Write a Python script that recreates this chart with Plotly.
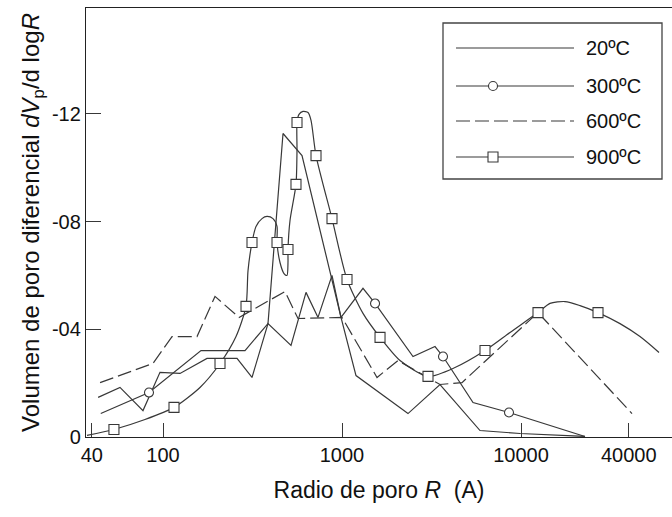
import plotly.graph_objects as go

# ---------------- data ----------------
# 20 ºC
R20 = [43.4, 57.5, 77.3, 96.2, 124.5, 176.1, 259.1, 314.2, 386.0, 518.9, 629.4,
       734.5, 879.3, 987.2, 1197.3, 2337, 3527, 5902, 9872, 22782]
V20 = [-0.0147, -0.0184, -0.0098, -0.0240, -0.0236, -0.0292, -0.0292, -0.0221,
       -0.0421, -0.0340, -0.0537, -0.0444, -0.0600, -0.0444, -0.0228, -0.0087,
       -0.0195, -0.0024, -0.0013, -0.0002]

# 300 ºC (line) and its marked points
R300 = [44.9, 83.5, 163.0, 287.1, 386.0, 468.2, 597.9, 987.2, 1310.2, 1529.6,
        2493, 3308, 3667, 5394, 8570, 22782]
V300 = [-0.0087, -0.0165, -0.0321, -0.0321, -0.0421, -0.1127, -0.1045, -0.0444,
        -0.0552, -0.0496, -0.0299, -0.0336, -0.0299, -0.0128, -0.0091, -0.0002]
R300_pts = [83.5, 1529.6, 3667, 8570]
V300_pts = [-0.0165, -0.0496, -0.0299, -0.0091]

# 600 ºC
R600 = [44.5, 87.9, 112.3, 154.9, 195.2, 265.9, 480.4, 567.8, 1000, 1569, 2055,
        3527, 4682, 12445, 41706]
V600 = [-0.0202, -0.0273, -0.0373, -0.0373, -0.0522, -0.0444, -0.0540, -0.0440,
        -0.0444, -0.0221, -0.0284, -0.0195, -0.0202, -0.0462, -0.0087]

# 900 ºC (smoothed curve) and its marked points
R900 = [37.6, 53.2, 79.3, 115.2, 160.9, 208.2, 255.8, 290.9, 298.5, 314.2, 330.8,
        357.3, 381.1, 411.6, 433.4, 433.4, 450.4, 474.2, 492.8, 499.2, 499.2,
        512.3, 553.3, 560.5, 560.5, 575.2, 605.6, 645.9, 671.3, 715.8, 879.3,
        1066.4, 1310.2, 1631, 2109, 3023, 4279, 6294, 8681, 12445, 14521, 17616,
        21362, 26929, 35739, 46224, 59024]
V900 = [-0.0006, -0.0028, -0.0065, -0.0110, -0.0184, -0.0273, -0.0373, -0.0485,
        -0.0618, -0.0722, -0.0782, -0.0811, -0.0819, -0.0811, -0.0782, -0.0722,
        -0.0648, -0.0607, -0.0600, -0.0648, -0.0696, -0.0804, -0.0938, -0.1064,
        -0.1168, -0.1198, -0.1209, -0.1205, -0.1176, -0.1045, -0.0811, -0.0585,
        -0.0459, -0.0370, -0.0284, -0.0225, -0.0258, -0.0321, -0.0388, -0.0462,
        -0.0496, -0.0503, -0.0488, -0.0462, -0.0421, -0.0373, -0.0314]
R900_pts = [53.2, 115.2, 208.2, 290.9, 314.2, 433.4, 499.2, 553.3, 560.5, 715.8,
            879.3, 1066.4, 1631, 3023, 6294, 12445, 26929]
V900_pts = [-0.0028, -0.0110, -0.0273, -0.0485, -0.0722, -0.0722, -0.0696,
            -0.0938, -0.1168, -0.1045, -0.0811, -0.0585, -0.0370, -0.0225,
            -0.0321, -0.0462, -0.0462]

x_ticks = [40, 100, 1000, 10000, 40000]
x_ticktext = ["40", "100", "1000", "10000", "40000"]
y_ticks = [0, -0.04, -0.08, -0.12]
y_ticktext = ["0", "-04", "-08", "-12"]
legend_names = ["20ºC", "300ºC", "600ºC", "900ºC"]

# ---------------- styling ----------------
FONT = "Liberation Sans, Arial, sans-serif"
LC = "#383838"
LW = 1.2
W, H = 672, 517
ML, MR, MT, MB = 86, 0, 8, 80

fig = go.Figure()
fig.add_trace(go.Scatter(x=R20, y=V20, mode="lines",
                         line=dict(color=LC, width=LW), showlegend=False))
fig.add_trace(go.Scatter(x=R300, y=V300, mode="lines",
                         line=dict(color=LC, width=LW), showlegend=False))
fig.add_trace(go.Scatter(x=R600, y=V600, mode="lines",
                         line=dict(color=LC, width=LW, dash="14px,5px"),
                         showlegend=False))
fig.add_trace(go.Scatter(x=R900, y=V900, mode="lines",
                         line=dict(color=LC, width=LW, shape="spline", smoothing=0.7),
                         showlegend=False))
fig.add_trace(go.Scatter(x=R300_pts, y=V300_pts, mode="markers",
                         marker=dict(symbol="circle", size=9, color="white",
                                     line=dict(color=LC, width=1.1)),
                         showlegend=False))
fig.add_trace(go.Scatter(x=R900_pts, y=V900_pts, mode="markers",
                         marker=dict(symbol="square", size=10, color="white",
                                     line=dict(color=LC, width=1.1)),
                         showlegend=False))

# ---------------- custom legend (box with long line samples) ----------------
PW = W - ML - MR
PH = H - MT - MB


def px(x):
    return (x - ML) / PW


def py(y):
    return (H - MB - y) / PH


shapes = [dict(type="rect", xref="paper", yref="paper",
               x0=px(443), x1=px(662), y0=py(179), y1=py(23),
               line=dict(color="#444444", width=1.3), fillcolor="white")]
rows = [48, 86, 121, 157]
dashes = ["solid", "solid", "14px,5px", "solid"]
for r, d in zip(rows, dashes):
    shapes.append(dict(type="line", xref="paper", yref="paper",
                       x0=px(456), x1=px(574), y0=py(r), y1=py(r),
                       line=dict(color=LC, width=LW, dash=d)))
shapes.append(dict(type="circle", xref="paper", yref="paper",
                   x0=px(488.5), x1=px(497.5), y0=py(90.5), y1=py(81.5),
                   line=dict(color=LC, width=1.1), fillcolor="white"))
shapes.append(dict(type="rect", xref="paper", yref="paper",
                   x0=px(488), x1=px(498), y0=py(162), y1=py(152),
                   line=dict(color=LC, width=1.1), fillcolor="white"))

annotations = []
for r, name in zip(rows, legend_names):
    annotations.append(dict(xref="paper", yref="paper", x=px(584), y=py(r),
                            text=name, showarrow=False, xanchor="left",
                            yanchor="middle",
                            font=dict(family=FONT, size=20, color="#111111")))

fig.update_layout(
    width=W, height=H,
    margin=dict(l=ML, r=MR, t=MT, b=MB),
    paper_bgcolor="white", plot_bgcolor="white",
    font=dict(family=FONT, size=20, color="#111111"),
    shapes=shapes, annotations=annotations,
    showlegend=False,
)
fig.update_xaxes(
    type="log", range=[1.5698, 4.8436],
    tickvals=x_ticks, ticktext=x_ticktext,
    ticks="inside", ticklen=14, tickwidth=1.2, tickcolor=LC,
    showline=True, linecolor="#222222", linewidth=1.3, mirror=True,
    showgrid=False, zeroline=False,
    tickfont=dict(family=FONT, size=20, color="#111111"),
    title=dict(text="Radio de poro <i>R</i>\u00a0\u00a0(A)",
               font=dict(family=FONT, size=23, color="#111111"), standoff=16),
)
fig.update_yaxes(
    range=[0, -0.1593],
    tickvals=y_ticks, ticktext=y_ticktext,
    ticks="inside", ticklen=15, tickwidth=1.2, tickcolor=LC,
    showline=True, linecolor="#222222", linewidth=1.3, mirror=False,
    showgrid=False, zeroline=False,
    tickfont=dict(family=FONT, size=20, color="#111111"),
    title=dict(text="Volumen de poro diferencial <i>dV</i><sub>p</sub>/d log<i>R</i>",
               font=dict(family=FONT, size=24, color="#111111"), standoff=5),
)

fig.write_html("out.html")
